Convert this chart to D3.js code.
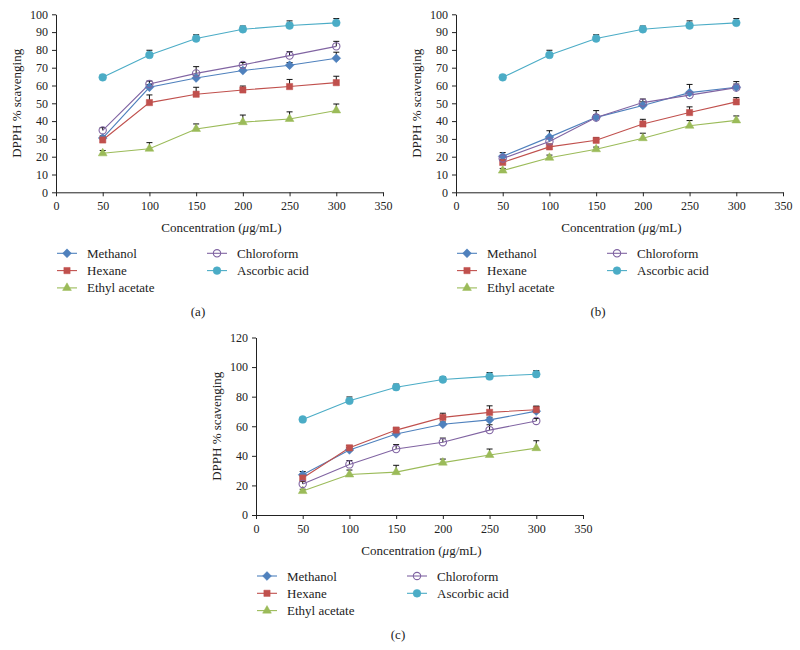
<!DOCTYPE html>
<html>
<head>
<meta charset="utf-8">
<script src="https://cdn.jsdelivr.net/npm/d3@7.9.0/dist/d3.min.js"></script>
<style>
  body { margin: 0; background: #fff; }
  svg { display: block; font-family: "Liberation Serif", "DejaVu Serif", serif; }
</style>
</head>
<body>
<svg id="chart" width="800" height="650"></svg>
<script>
// concentrations (µg/mL)
let concentrations = [50, 100, 150, 200, 250, 300];
let seriesNames = ['Methanol', 'Hexane', 'Ethyl acetate', 'Chloroform', 'Ascorbic acid'];

// ascorbic acid is the same standard in every panel
let ascorbic = [64.6, 77.2, 86.4, 91.6, 93.7, 95.2];
let ascorbicErr = [1.2, 2.6, 2.1, 1.8, 2.6, 2.4];

// panel (a)
let methanolA = [30.5, 59.0, 64.2, 68.4, 71.4, 75.3];
let hexaneA = [29.4, 50.4, 55.1, 57.5, 59.4, 61.6];
let ethylA = [21.9, 24.5, 35.6, 39.4, 41.2, 46.0];
let chloroformA = [34.8, 60.8, 66.8, 71.6, 76.8, 82.0];
let methanolAErr = [1.2, 1.5, 1.6, 1.5, 1.5, 3.4];
let hexaneAErr = [1.5, 4.3, 3.9, 2.2, 4.0, 3.6];
let ethylAErr = [1.6, 3.4, 2.8, 4.0, 4.0, 3.6];
let chloroformAErr = [1.5, 1.7, 3.8, 1.3, 2.2, 2.8];

// panel (b)
let methanolB = [20.2, 31.0, 42.1, 48.8, 56.0, 59.0];
let hexaneB = [16.8, 25.5, 29.2, 38.4, 44.8, 50.8];
let ethylB = [12.2, 19.4, 24.2, 30.4, 37.4, 40.4];
let chloroformB = [19.0, 28.6, 42.0, 50.4, 54.6, 58.8];
let methanolBErr = [2.1, 3.6, 3.8, 2.0, 4.6, 3.2];
let hexaneBErr = [1.5, 1.6, 1.5, 2.6, 3.2, 2.4];
let ethylBErr = [1.2, 1.5, 1.2, 2.8, 2.9, 2.5];
let chloroformBErr = [1.6, 1.5, 1.6, 2.0, 1.8, 2.0];

// panel (c)
let methanolC = [27.2, 44.0, 54.8, 61.3, 64.3, 70.2];
let hexaneC = [25.0, 45.4, 57.4, 66.0, 69.4, 71.2];
let ethylC = [16.2, 27.4, 29.0, 35.4, 40.6, 45.2];
let chloroformC = [21.0, 34.2, 44.6, 49.2, 57.4, 63.6];
let methanolCErr = [2.2, 1.6, 1.6, 1.6, 1.8, 3.2];
let hexaneCErr = [1.6, 1.6, 1.8, 2.8, 4.4, 2.4];
let ethylCErr = [1.2, 3.0, 4.6, 2.4, 4.0, 5.0];
let chloroformCErr = [1.6, 2.6, 3.0, 2.8, 3.6, 1.6];

let xTicks = [0, 50, 100, 150, 200, 250, 300, 350];
let yTicksAB = [0, 10, 20, 30, 40, 50, 60, 70, 80, 90, 100];
let yTicksC = [0, 20, 40, 60, 80, 100, 120];
let panelLabels = ['(a)', '(b)', '(c)'];

let colors = d3.scaleOrdinal()
  .domain(seriesNames)
  .range(['#4f81bd', '#c0504d', '#9bbb59', '#8064a2', '#4bacc6']);

let symbols = {
  'Methanol': d3.symbolDiamond2,
  'Hexane': d3.symbolSquare2,
  'Ethyl acetate': d3.symbolTriangle2,
  'Chloroform': d3.symbolCircle,
  'Ascorbic acid': d3.symbolCircle
};
let symbolSize = {
  'Methanol': 50, 'Hexane': 50, 'Ethyl acetate': 55, 'Chloroform': 42, 'Ascorbic acid': 48
};

function markerPath(name) {
  return d3.symbol().type(symbols[name]).size(symbolSize[name])();
}

function drawMarker(g, name, x, y) {
  let hollow = name === 'Chloroform';
  g.append('path')
    .attr('d', markerPath(name))
    .attr('transform', `translate(${x},${y})`)
    .attr('fill', hollow ? 'none' : colors(name))
    .attr('stroke', colors(name))
    .attr('stroke-width', hollow ? 1.1 : 0.5);
}

let svg = d3.select('#chart');

function drawPanel(p) {
  let x = d3.scaleLinear().domain([0, 350]).range([p.left, p.right]);
  let y = d3.scaleLinear().domain([0, p.yMax]).range([p.bottom, p.top]);
  let g = svg.append('g');

  let yAxis = g.append('g')
    .attr('transform', `translate(${p.left},0)`)
    .call(d3.axisLeft(y).tickValues(p.yTicks).tickSize(4).tickSizeOuter(0).tickPadding(4));
  let xAxis = g.append('g')
    .attr('transform', `translate(0,${p.bottom})`)
    .call(d3.axisBottom(x).tickValues(xTicks).tickSize(4).tickSizeOuter(0).tickPadding(5));
  [xAxis, yAxis].forEach((a) => {
    a.selectAll('path, line').attr('stroke', '#222');
    a.selectAll('text').attr('fill', '#222').style('font-size', '12px')
      .style('font-family', '"Liberation Serif", serif');
  });

  g.append('text')
    .attr('x', (p.left + p.right) / 2 + 2)
    .attr('y', p.bottom + 40)
    .attr('text-anchor', 'middle')
    .style('font-size', '13px')
    .attr('fill', '#222')
    .html('Concentration (<tspan font-style="italic">μ</tspan>g/mL)');

  g.append('text')
    .attr('transform', `translate(${p.left - 35},${(p.top + p.bottom) / 2}) rotate(-90)`)
    .attr('text-anchor', 'middle')
    .style('font-size', '13px')
    .attr('fill', '#222')
    .text('DPPH % scavenging');

  // error bars (upper half only), then lines, then markers
  p.series.forEach((s) => {
    s.values.forEach((v, i) => {
      let cx = x(concentrations[i]);
      let top = y(v + s.err[i]);
      g.append('line').attr('x1', cx).attr('x2', cx).attr('y1', y(v)).attr('y2', top)
        .attr('stroke', '#111').attr('stroke-width', 1);
      g.append('line').attr('x1', cx - 3).attr('x2', cx + 3).attr('y1', top).attr('y2', top)
        .attr('stroke', '#111').attr('stroke-width', 1);
    });
  });

  let line = d3.line().x((d, i) => x(concentrations[i])).y((d) => y(d));
  p.series.forEach((s) => {
    g.append('path')
      .attr('d', line(s.values))
      .attr('fill', 'none')
      .attr('stroke', colors(s.name))
      .attr('stroke-width', 1.1);
  });
  p.series.forEach((s) => {
    s.values.forEach((v, i) => drawMarker(g, s.name, x(concentrations[i]), y(v)));
  });

  // legend
  let legendCols = [
    ['Methanol', 'Hexane', 'Ethyl acetate'],
    ['Chloroform', 'Ascorbic acid']
  ];
  legendCols.forEach((col, ci) => {
    col.forEach((name, ri) => {
      let lx = p.left + 1 + ci * 150;
      let ly = p.bottom + 61 + ri * 17.3;
      g.append('line').attr('x1', lx).attr('x2', lx + 20).attr('y1', ly).attr('y2', ly)
        .attr('stroke', colors(name)).attr('stroke-width', 1.1);
      drawMarker(g, name, lx + 10, ly);
      g.append('text')
        .attr('x', lx + 30)
        .attr('y', ly + 4.5)
        .style('font-size', '13px')
        .attr('fill', '#222')
        .text(name);
    });
  });

  g.append('text')
    .attr('x', p.left + 142)
    .attr('y', p.bottom + 124)
    .attr('text-anchor', 'middle')
    .style('font-size', '13px')
    .attr('fill', '#222')
    .text(p.label);
}

function makeSeries(m, h, e, c, me, he, ee, ce) {
  return [
    { name: 'Methanol', values: m, err: me },
    { name: 'Hexane', values: h, err: he },
    { name: 'Ethyl acetate', values: e, err: ee },
    { name: 'Chloroform', values: c, err: ce },
    { name: 'Ascorbic acid', values: ascorbic, err: ascorbicErr }
  ];
}

drawPanel({
  left: 56, right: 383, top: 14.3, bottom: 192.3, yMax: 100, yTicks: yTicksAB, label: panelLabels[0],
  series: makeSeries(methanolA, hexaneA, ethylA, chloroformA, methanolAErr, hexaneAErr, ethylAErr, chloroformAErr)
});
drawPanel({
  left: 456, right: 783, top: 14.3, bottom: 192.3, yMax: 100, yTicks: yTicksAB, label: panelLabels[1],
  series: makeSeries(methanolB, hexaneB, ethylB, chloroformB, methanolBErr, hexaneBErr, ethylBErr, chloroformBErr)
});
drawPanel({
  left: 256, right: 583, top: 337.5, bottom: 515, yMax: 120, yTicks: yTicksC, label: panelLabels[2],
  series: makeSeries(methanolC, hexaneC, ethylC, chloroformC, methanolCErr, hexaneCErr, ethylCErr, chloroformCErr)
});
</script>
</body>
</html>
